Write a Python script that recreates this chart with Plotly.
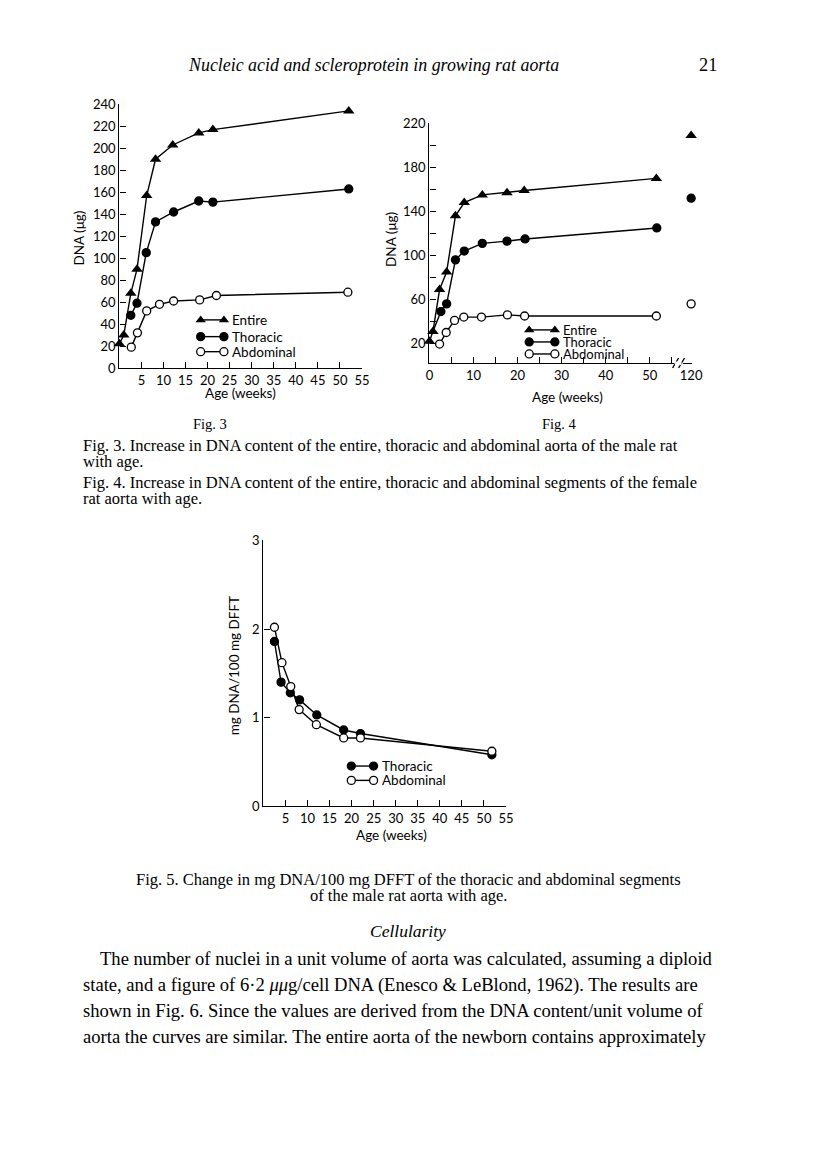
import plotly.graph_objects as go

# Figure size (this size keeps the page geometry fixed); positions below are
# given in the reference page's pixel frame and converted to paper units.
W, H = 800, 1147
S, CX, CY = 0.9835, 10.9, 16.9   # page = S * figure_px + C  (observed page mapping)


def px(x):
    return ((x - CX) / S) / W


def py(y):
    return 1 - ((y - CY) / S) / H


# ---------------- Data ----------------
# Fig. 3 (male rat) DNA content (ug) vs age (weeks)
f3_entire_age = [0, 1, 2.6, 4, 6.2, 8.2, 12.1, 18, 21.2, 52]
f3_entire_dna = [22, 30, 68, 90, 157, 190, 203, 214, 217, 234]
f3_thor_age = [2.6, 4, 6.1, 8.2, 12.3, 18, 21.2, 52]
f3_thor_dna = [48, 59, 105, 133, 142, 152, 151, 163]
f3_abd_age = [2.7, 4.1, 6.2, 9.1, 12.3, 18.2, 22, 51.8]
f3_abd_dna = [19, 32, 52, 58, 61, 62, 66, 69]

# Fig. 4 (female rat)
f4_entire_age = [0, 0.8, 2.3, 3.9, 5.9, 7.9, 12, 17.6, 21.5, 51.5]
f4_entire_dna = [22, 31, 69, 85, 136, 148, 155, 157, 159, 170]
f4_thor_age = [0.8, 2.6, 3.9, 5.9, 7.9, 12, 17.6, 21.7, 51.6]
f4_thor_dna = [31, 49, 56, 96, 104, 111, 113, 115, 125]
f4_abd_age = [2.3, 3.8, 5.7, 7.8, 11.8, 17.7, 21.6, 51.5]
f4_abd_dna = [19.5, 30, 41, 44, 44, 46, 45, 45]
f4_late_age = [120]
f4_late_entire = [209]
f4_late_thor = [152]
f4_late_abd = [56]

# Fig. 5 mg DNA / 100 mg DFFT
f5_thor_age = [2.5, 4.0, 6.1, 8.2, 12.1, 18.2, 22, 51.8]
f5_thor_val = [1.86, 1.40, 1.28, 1.20, 1.03, 0.86, 0.82, 0.58]
f5_abd_age = [2.5, 4.2, 6.2, 8.1, 12, 18.2, 22, 51.8]
f5_abd_val = [2.02, 1.62, 1.35, 1.09, 0.92, 0.77, 0.77, 0.62]

f3_xticks = [5, 10, 15, 20, 25, 30, 35, 40, 45, 50, 55]
f3_yticks = [0, 20, 40, 60, 80, 100, 120, 140, 160, 180, 200, 220, 240]
f4_yticks = [20, 60, 100, 140, 180, 220]
f4_yminor = [40, 80, 120, 160, 200]
f4_xticks = [0, 10, 20, 30, 40, 50]
f4_xminor = [5, 15, 25, 35, 45, 55]
f5_xticks = [5, 10, 15, 20, 25, 30, 35, 40, 45, 50, 55]
f5_yticks = [0, 1, 2, 3]

SANS = "Lato"
SERIF = "Liberation Serif"
LW = 1.4

fig = go.Figure()


def tri(x, y, xa, ya, mode="lines+markers", size=10):
    return go.Scatter(x=x, y=y, xaxis=xa, yaxis=ya, mode=mode, cliponaxis=False,
                      line=dict(color="black", width=LW),
                      marker=dict(symbol="triangle-up", size=size, color="black",
                                  line=dict(color="black", width=0)),
                      showlegend=False, hoverinfo="skip")


def dot(x, y, xa, ya, filled=True, mode="lines+markers", size=8):
    return go.Scatter(x=x, y=y, xaxis=xa, yaxis=ya, mode=mode, cliponaxis=False,
                      line=dict(color="black", width=LW),
                      marker=dict(symbol="circle", size=size,
                                  color="black" if filled else "white",
                                  line=dict(color="black", width=1.3)),
                      showlegend=False, hoverinfo="skip")


# Fig 3
fig.add_trace(dot(f3_abd_age, f3_abd_dna, "x", "y", filled=False))
fig.add_trace(dot(f3_thor_age, f3_thor_dna, "x", "y", filled=True))
fig.add_trace(tri(f3_entire_age, f3_entire_dna, "x", "y"))

# Fig 4
fig.add_trace(dot(f4_abd_age, f4_abd_dna, "x2", "y2", filled=False))
fig.add_trace(dot(f4_thor_age, f4_thor_dna, "x2", "y2", mode="lines"))
fig.add_trace(dot(f4_thor_age[1:], f4_thor_dna[1:], "x2", "y2", filled=True, mode="markers"))
fig.add_trace(tri(f4_entire_age, f4_entire_dna, "x2", "y2"))
fig.add_trace(tri(f4_late_age, f4_late_entire, "x4", "y2", mode="markers"))
fig.add_trace(dot(f4_late_age, f4_late_thor, "x4", "y2", filled=True, mode="markers"))
fig.add_trace(dot(f4_late_age, f4_late_abd, "x4", "y2", filled=False, mode="markers"))

# Fig 5
fig.add_trace(dot(f5_thor_age, f5_thor_val, "x3", "y3", filled=True))
fig.add_trace(dot(f5_abd_age, f5_abd_val, "x3", "y3", filled=False))

# Legend keys (drawn on a page-sized overlay axis, page pixel units)
legend_keys = [
    ("tri", 200, 223.3, 320, "Entire", 13.5),
    ("fill", 200, 223.3, 336.7, "Thoracic", 13.5),
    ("open", 200, 223.3, 351.7, "Abdominal", 13.5),
    ("tri", 529.3, 555, 330, "Entire", 13),
    ("fill", 529.3, 555, 342, "Thoracic", 13),
    ("open", 529.3, 555, 354, "Abdominal", 13),
    ("fill", 351, 373.3, 765, "Thoracic", 13.5),
    ("open", 351, 373.3, 779.3, "Abdominal", 13.5),
]
annotations = []
for kind, x0, x1, yy, label, fs in legend_keys:
    if kind == "tri":
        fig.add_trace(tri([x0, x1], [yy, yy], "x5", "y5", size=9))
    else:
        fig.add_trace(dot([x0, x1], [yy, yy], "x5", "y5", filled=(kind == "fill"), size=8))
    annotations.append(dict(x=px(x1 + 6), y=py(yy), xref="paper", yref="paper",
                            text=label, showarrow=False, xanchor="left", yanchor="middle",
                            font=dict(family=SANS, size=fs, color="black")))

axis_common = dict(showline=True, linecolor="black", linewidth=LW, ticks="inside",
                   ticklen=6, tickwidth=LW, tickcolor="black", showgrid=False,
                   zeroline=False, tickfont=dict(family=SANS, size=13, color="black"))


def ax(**kw):
    d = dict(axis_common)
    d.update(kw)
    return d


minor_style = dict(ticks="inside", ticklen=6, tickwidth=LW, tickcolor="black", showgrid=False)

fig.update_layout(
    width=W, height=H, margin=dict(l=0, r=0, t=0, b=0),
    paper_bgcolor="white", plot_bgcolor="rgba(0,0,0,0)",
    xaxis=ax(domain=[px(118.5), px(361.7)], range=[0, 55], tickvals=f3_xticks, anchor="y"),
    yaxis=ax(domain=[py(368), py(105)], range=[0, 240], tickvals=f3_yticks, anchor="x"),
    xaxis2=ax(domain=[px(429.3), px(674.4)], range=[0, 55.5], tickvals=f4_xticks, anchor="y2",
              minor=dict(tickvals=f4_xminor, **minor_style)),
    yaxis2=ax(domain=[py(363.3), py(124)], range=[2, 220], tickvals=f4_yticks, anchor="x2",
              minor=dict(tickvals=f4_yminor, **minor_style)),
    xaxis4=ax(domain=[px(683.5), px(692.5)], range=[118.2, 120.2], tickvals=[120], anchor="y2"),
    xaxis3=ax(domain=[px(262.9), px(506)], range=[0, 55], tickvals=f5_xticks, anchor="y3"),
    yaxis3=ax(domain=[py(805), py(540)], range=[0, 3], tickvals=f5_yticks, anchor="x3"),
    xaxis5=dict(domain=[0, 1], range=[CX, CX + S * W], visible=False, anchor="y5", fixedrange=True),
    yaxis5=dict(domain=[0, 1], range=[CY + S * H, CY], visible=False, anchor="x5", fixedrange=True),
)


def text(x, y, s, size, family=SANS, xanchor="center", angle=0, italic=False):
    if xanchor == "left":
        x -= 3  # compensate annotation padding
    annotations.append(dict(x=px(x), y=py(y), xref="paper", yref="paper", text=s,
                            showarrow=False, xanchor=xanchor, yanchor="middle",
                            textangle=angle,
                            font=dict(family=family, size=size, color="black",
                                      style="italic" if italic else "normal")))


# Page header
text(188, 66, "Nucleic acid and scleroprotein in growing rat aorta", 17.9, SERIF, "left", italic=True)
text(708, 66, "21", 18.3, SERIF)

# Axis titles
text(78, 238, "DNA (μg)", 13.5, angle=-90)
text(240, 393, "Age (weeks)", 13.5)
text(390, 240, "DNA (μg)", 13.5, angle=-90)
text(568, 397, "Age (weeks)", 13.5)
text(233, 665, "mg DNA/100 mg DFFT", 13.5, angle=-90)
text(391, 834, "Age (weeks)", 13.5)

# Figure labels and captions
CAP = 16.5
text(209, 424, "Fig. 3", 14.5, SERIF)
text(560, 424, "Fig. 4", 14.5, SERIF)
text(83, 445, "Fig. 3. Increase in DNA content of the entire, thoracic and abdominal aorta of the male rat", CAP, SERIF, "left")
text(83, 461, "with age.", CAP, SERIF, "left")
text(83, 482, "Fig. 4. Increase in DNA content of the entire, thoracic and abdominal segments of the female", CAP, SERIF, "left")
text(83, 498, "rat aorta with age.", CAP, SERIF, "left")
text(408, 878, "Fig. 5. Change in mg DNA/100 mg DFFT of the thoracic and abdominal segments", CAP, SERIF)
text(408, 894, "of the male rat aorta with age.", CAP, SERIF)

text(408, 930, "Cellularity", 17.5, SERIF, italic=True)
para = [
    (100, "The number of nuclei in a unit volume of aorta was calculated, assuming a diploid"),
    (83, "state, and a figure of 6·2 <i>μμ</i>g/cell DNA (Enesco &amp; LeBlond, 1962). The results are"),
    (83, "shown in Fig. 6. Since the values are derived from the DNA content/unit volume of"),
    (83, "aorta the curves are similar. The entire aorta of the newborn contains approximately"),
]
for i, (x0, line) in enumerate(para):
    text(x0, 957 + 26 * i, line, 18.6, SERIF, "left")

# Axis break marks on Fig. 4
shapes = []
for dx in (0, 6):
    shapes.append(dict(type="line", xref="paper", yref="paper",
                       x0=px(673 + dx), y0=py(368), x1=px(679 + dx), y1=py(358),
                       line=dict(color="black", width=LW)))
shapes.append(dict(type="rect", xref="paper", yref="paper",
                   x0=px(675.5), x1=px(682), y0=py(365), y1=py(361.5),
                   fillcolor="white", line=dict(width=0), layer="above"))

fig.update_layout(annotations=annotations, shapes=shapes)

fig.write_html("out.html")
